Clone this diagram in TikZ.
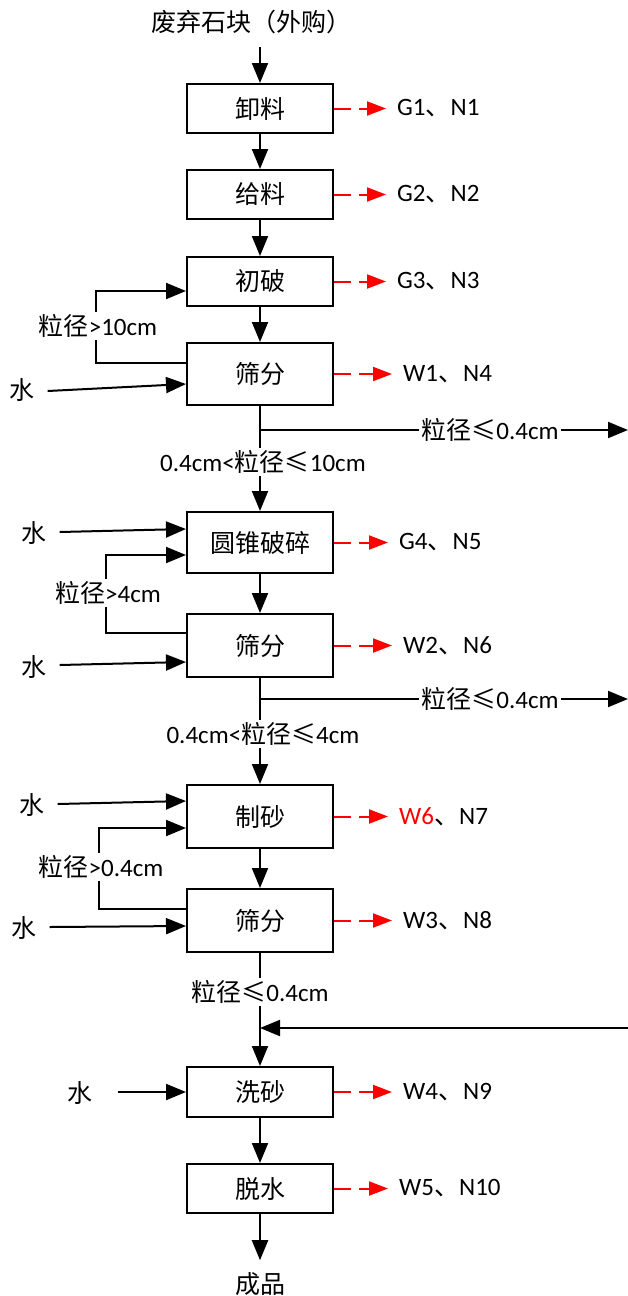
\documentclass[tikz,border=0pt]{standalone}
\usepackage{fontspec}
\setmainfont{Carlito}
\newfontfamily\cjk{Noto Sans CJK SC}
\usetikzlibrary{arrows.meta}
\newcommand\zh[1]{{\cjk #1}}
\begin{document}
\begin{tikzpicture}[x=1pt,y=-1pt,
  every node/.style={font=\fontsize{25}{29}\selectfont, inner sep=1pt},
  proc/.style={draw, line width=2pt, minimum width=146pt, inner sep=0pt},
  flow/.style={line width=2pt, -{Triangle[length=20pt,width=16pt]}},
  emit/.style={red, line width=2pt, dash pattern=on 17pt off 8pt on 5pt off 0pt, -{Triangle[length=19pt,width=14pt]}},
  lbl/.style={fill=white, inner sep=2pt},
  emitlbl/.style={anchor=west},
]
\useasboundingbox (0,0) rectangle (628,1296);

% title and product
\node (src) at (251,22) {\zh{废弃石块（外购）}};
\node (prod) at (260,1284) {\zh{成品}};

% process boxes
\node[proc, minimum height=49pt] (b1) at (260,108.5) {\zh{卸料}};
\node[proc, minimum height=49pt] (b2) at (260,194.5) {\zh{给料}};
\node[proc, minimum height=49pt] (b3) at (260,281.5) {\zh{初破}};
\node[proc, minimum height=62pt] (b4) at (260,374) {\zh{筛分}};
\node[proc, minimum height=61pt] (b5) at (260,542.5) {\zh{圆锥破碎}};
\node[proc, minimum height=63pt] (b6) at (260,645.5) {\zh{筛分}};
\node[proc, minimum height=63pt] (b7) at (260,816.5) {\zh{制砂}};
\node[proc, minimum height=63pt] (b8) at (260,920.5) {\zh{筛分}};
\node[proc, minimum height=50pt] (b9) at (260,1092) {\zh{洗砂}};
\node[proc, minimum height=49pt] (b10) at (260,1188.5) {\zh{脱水}};

% emission labels
\node[emitlbl] (e1) at (396,108.5) {G1\zh{、}N1};
\node[emitlbl] (e2) at (396,194.5) {G2\zh{、}N2};
\node[emitlbl] (e3) at (396,281.5) {G3\zh{、}N3};
\node[emitlbl] (e4) at (402,374) {W1\zh{、}N4};
\node[emitlbl] (e5) at (398,542.5) {G4\zh{、}N5};
\node[emitlbl] (e6) at (402,645.5) {W2\zh{、}N6};
\node[emitlbl] (e7) at (398,816.5) {\textcolor{red}{W6}\zh{、}N7};
\node[emitlbl] (e8) at (402,920.5) {W3\zh{、}N8};
\node[emitlbl] (e9) at (402,1092) {W4\zh{、}N9};
\node[emitlbl] (e10) at (398,1188.5) {W5\zh{、}N10};

\foreach \i in {1,...,10} {
  \draw[emit] (b\i.east) -- ([xshift=-10pt]e\i.west);
}

% water inputs
\node (w1) at (22,390) {\zh{水}};
\node (w2) at (34,533) {\zh{水}};
\node (w3) at (34,667) {\zh{水}};
\node (w4) at (32,805) {\zh{水}};
\node (w5) at (24,928) {\zh{水}};
\node (w6) at (80,1093) {\zh{水}};
\draw[flow] ([xshift=12pt]w1.east |- 0,391) -- (b4.west |- 0,384);
\draw[flow] ([xshift=12pt]w2.east |- 0,532) -- (b5.west |- 0,529);
\draw[flow] ([xshift=12pt]w3.east |- 0,665) -- (b6.west |- 0,662);
\draw[flow] ([xshift=12pt]w4.east |- 0,804) -- (b7.west |- 0,801);
\draw[flow] ([xshift=12pt]w5.east |- 0,927) -- (b8.west |- 0,926);
\draw[flow] ([xshift=24pt]w6.east |- 0,1092) -- (b9.west |- 0,1092);

% main flow
\draw[flow] ([yshift=-12pt]src.south -| b1.north) -- (b1.north);
\draw[flow] (b1) -- (b2);
\draw[flow] (b2) -- (b3);
\draw[flow] (b3) -- (b4);
\draw[flow] (b4) -- (b5);
\draw[flow] (b5) -- (b6);
\draw[flow] (b6) -- (b7);
\draw[flow] (b7) -- (b8);
\draw[flow] (b8) -- (b9);
\draw[flow] (b9) -- (b10);
\draw[flow, shorten >=11pt] (b10) -- (prod);

% recycle loops
\draw[flow] (b4.west |- 0,363) -| (96,291) -- (b3.west |- 0,291);
\node[lbl] (k1) at (98,326) {\zh{粒径}>10cm};
\draw[flow] (b6.west |- 0,633) -| (106,555) -- (b5.west |- 0,555);
\node[lbl] (k2) at (108,593) {\zh{粒径}>4cm};
\draw[flow] (b8.west |- 0,909) -| (99,828) -- (b7.west |- 0,828);
\node[lbl] (k3) at (101,867) {\zh{粒径}>0.4cm};

% fines branches
\coordinate (r1) at (628,430);
\coordinate (r2) at (628,699);
\coordinate (r3) at (628,1028);
\draw[flow] (b4.south |- r1) -- (r1);
\node[lbl] (f1) at (490,430) {\zh{粒径≤}0.4cm};
\draw[flow] (b6.south |- r2) -- (r2);
\node[lbl] (f2) at (490,699) {\zh{粒径≤}0.4cm};
\draw[flow] (r3) -- (b8.south |- r3);

% size labels on main line
\node[lbl] (s1) at (263,462) {0.4cm<\zh{粒径≤}10cm};
\node[lbl] (s2) at (263,734) {0.4cm<\zh{粒径≤}4cm};
\node[lbl] (s3) at (260,992) {\zh{粒径≤}0.4cm};
\end{tikzpicture}
\end{document}
